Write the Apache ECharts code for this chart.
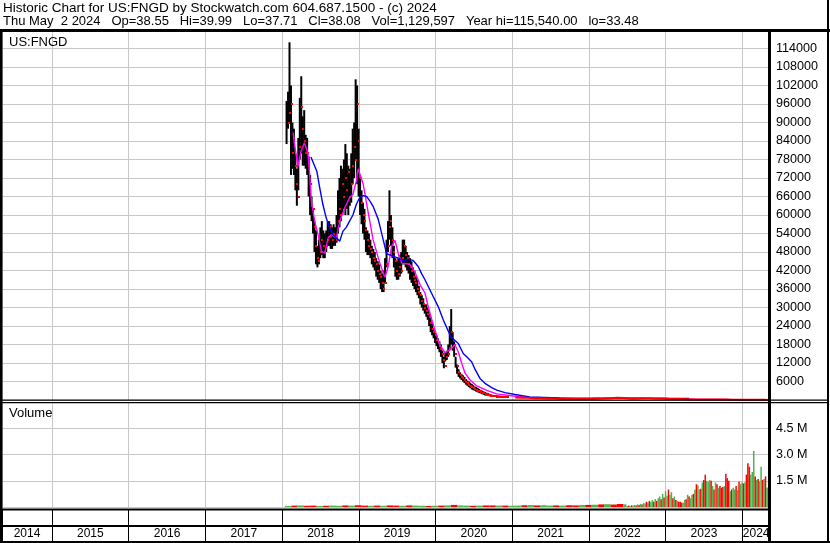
<!DOCTYPE html>
<html><head><meta charset="utf-8">
<script src="https://cdn.jsdelivr.net/npm/echarts@6/dist/echarts.min.js"></script>
<style>html,body{margin:0;padding:0;background:#fff}#c{width:830px;height:543px}</style>
</head><body><div id="c"></div>
<script>
// ---------------- texts ----------------
const headerLine1 = 'Historic Chart for US:FNGD by Stockwatch.com 604.687.1500 - (c) 2024';
const headerLine2 = 'Thu May  2 2024   Op=38.55   Hi=39.99   Lo=37.71   Cl=38.08   Vol=1,129,597   Year hi=115,540.00   lo=33.48';
const symbolLabel = 'US:FNGD';
const volumeLabel = 'Volume';
const yearLabels = ['2014','2015','2016','2017','2018','2019','2020','2021','2022','2023','2024'];

// ---------------- axis ranges ----------------
const axisStartDate = '2014-05-08';
const axisEndDate = '2024-05-12';
const priceMax = 120000, priceStep = 6000;
const volMax = 6000000, volStep = 1500000;

// ---------------- weekly price bars (2018-01-22 onward) ----------------
const weeklyStart = '2018-01-22';
const weeklyHigh = [97000,100000,116000,102000,90000,88000,80000,75000,85000,98000,
105000,92000,94000,86000,85000,79000,73000,66000,62000,58000,
55000,50000,52000,56000,58000,55000,54000,55000,58000,58000,
57000,56000,57000,56000,60000,68000,72000,76000,75000,78000,
83000,80000,76000,75000,80000,88000,90000,104000,102000,88000,
72000,68000,64000,62000,56000,55000,54000,52000,50000,49000,
48000,46000,45000,44000,42000,41000,42000,46000,52000,58000,
68000,60000,56000,50000,46000,45000,46000,47000,48000,52000,
52000,50000,48000,47000,46000,45000,43000,42000,40000,39000,
37000,35000,34000,33000,31000,31000,30000,29000,27000,25000,
23000,22000,21000,20000,19000,18000,16000,14000,15500,16000,
18000,24000,29500,22000,19000,14000,11500,10000,9000,8500,
8000,7500,6800,6300,6000,5600,5200,4800,4400,4200,
3900,3600,3300,3000,2800,2600,2400,2200,2000,1800,
1700,1600,1550,1500,1450,1400,1350,1300,1250,1200];
const weeklyLow = [83000,88000,90000,73000,75000,73000,68000,63000,68000,78000,
80000,76000,76000,75000,73000,66000,60000,58000,54000,48000,
44000,43000,44000,46000,47000,46000,46000,48000,50000,50000,
49000,49000,50000,50000,51000,54000,56000,58000,60000,62000,
60000,62000,60000,63000,64000,70000,72000,78000,70000,66000,
60000,57000,54000,52000,48000,47000,47000,46000,44000,43000,
42000,40000,39000,38000,36000,35000,35000,38000,43000,48000,
52000,50000,46000,43000,40000,39000,39000,40000,41000,44000,
44000,43000,42000,41000,39000,38000,37000,36000,35000,34000,
33000,31000,30000,29000,28000,27000,26000,24000,22000,21000,
20000,18500,17500,16500,15500,14000,12000,10300,12500,13000,
14000,17000,18000,16000,14000,10500,8500,7500,7000,6500,
6000,5500,5000,4600,4200,3800,3400,3200,3000,2700,
2500,2300,2100,1900,1700,1500,1400,1300,1200,1100,
1000,1000,950,950,900,900,850,850,800,800];
const weeklyClose = [90000,93000,96000,80000,85000,76000,70000,66000,82000,95000,
88000,84000,80000,80000,76000,70000,63000,62000,56000,50000,
46000,45000,48000,52000,50000,48000,50000,52000,56000,53000,
52000,54000,53000,52000,58000,62000,60000,70000,66000,72000,
68000,74000,66000,70000,76000,82000,78000,96000,84000,72000,
64000,60000,58000,55000,52000,50000,49000,48000,46000,45000,
44000,42000,41000,40000,38000,36000,38000,44000,50000,56000,
58000,52000,48000,45000,42000,41000,43000,42000,46000,50000,
47000,46000,44000,43000,42000,40000,39000,38000,36000,35000,
34000,32000,31000,30000,29000,28000,27000,25000,23000,22000,
21000,19500,18500,17500,16500,15000,13000,11000,14000,15000,
17000,22000,20000,18000,15000,11000,9000,8000,7500,7000,
6500,6000,5500,5000,4600,4200,3800,3600,3300,3000,
2800,2600,2400,2200,2000,1800,1600,1500,1400,1300,
1200,1150,1100,1050,1000,1050,950,900,900,850];

// ---------------- monthly closes after 2021 ----------------
const lateDates = ['2021-01-15','2021-02-15','2021-03-15','2021-04-15','2021-05-15','2021-06-15','2021-07-15','2021-08-15','2021-09-15','2021-10-15','2021-11-15','2021-12-15',
'2022-01-15','2022-02-15','2022-03-15','2022-04-15','2022-05-15','2022-06-15','2022-07-15','2022-08-15','2022-09-15','2022-10-15','2022-11-15','2022-12-15',
'2023-01-15','2023-02-15','2023-03-15','2023-04-15','2023-05-15','2023-06-15','2023-07-15','2023-08-15','2023-09-15','2023-10-15','2023-11-15','2023-12-15',
'2024-01-15','2024-02-15','2024-03-15','2024-04-15','2024-05-02'];
const lateClose = [800,700,750,600,600,500,450,420,430,380,350,360,
420,520,600,560,750,680,520,480,560,560,460,520,
380,320,290,250,200,150,140,150,140,140,100,80,
65,52,46,42,38];

// ---------------- moving averages ----------------
const fastMADates = ['2018-02-22','2018-03-01','2018-03-17','2018-04-01','2018-04-17','2018-04-25','2018-05-04','2018-05-12','2018-05-20','2018-06-05',
'2018-06-21','2018-07-07','2018-07-23','2018-08-08','2018-08-23','2018-09-16','2018-10-02','2018-10-26','2018-11-18','2018-12-04',
'2018-12-20','2018-12-29','2019-01-22','2019-02-15','2019-03-10','2019-04-11','2019-05-05','2019-05-21','2019-06-06','2019-06-22',
'2019-07-08','2019-07-24','2019-08-17','2019-09-02','2019-09-25','2019-10-19','2019-11-12','2019-12-05','2019-12-29','2020-01-22',
'2020-02-15','2020-03-10','2020-04-03','2020-04-19','2020-05-05','2020-05-21','2020-06-14','2020-07-15','2020-09-02','2020-10-19',
'2021-01-06','2021-03-15','2021-06-15','2021-09-15','2021-12-15','2022-03-15','2022-06-15','2022-09-15','2022-12-15','2023-03-15',
'2023-06-15','2023-09-15','2023-12-15','2024-03-15','2024-05-02'];
const fastMA = [86800,83000,75800,80700,83400,84000,80000,73100,64500,58000,
53600,48200,47600,52600,53600,52600,58000,62300,65600,66700,
71000,75000,70000,60700,52000,44400,39800,43300,49800,51800,
47500,44400,44200,43900,41500,37500,34700,28200,22800,17800,
15400,16250,17900,15500,11900,8700,6500,4600,3100,2000,
1300,850,650,480,380,500,680,560,520,350,
200,150,110,55,42];
const slowMADates = ['2018-05-18','2018-06-15','2018-06-29','2018-07-14','2018-07-30','2018-08-15','2018-08-31','2018-09-16','2018-10-02','2018-10-17',
'2018-11-02','2018-11-18','2018-12-04','2018-12-20','2019-01-05','2019-01-22','2019-02-07','2019-02-23','2019-03-10','2019-04-04',
'2019-04-27','2019-05-13','2019-06-06','2019-07-08','2019-07-31','2019-08-24','2019-09-16','2019-10-11','2019-10-27','2019-11-12',
'2019-12-13','2020-01-14','2020-02-07','2020-03-14','2020-04-19','2020-05-13','2020-05-29','2020-06-22','2020-07-07','2020-07-31',
'2020-08-24','2020-09-25','2020-10-19','2020-11-27','2021-01-14','2021-03-25','2021-08-15','2022-02-22','2022-10-18','2023-04-22'];
const slowMA = [78800,74200,68800,63400,59000,55900,53600,52600,51500,54700,
56000,58000,60000,63400,65600,66300,66000,64500,62800,58500,
52000,47500,46800,46000,45000,45700,45300,43300,41000,39000,
34700,30300,26000,20500,18300,15000,14000,12300,10000,7000,
5400,4000,3200,2400,1800,1000,650,560,540,480];

// ---------------- volume ----------------
const volMonthlyStart = '2018-01-15';
const volMonthly = [60000,80000,90000,70000,80000,60000,70000,80000,70000,90000,80000,100000,
80000,70000,80000,70000,90000,80000,70000,90000,80000,70000,60000,70000,
80000,90000,120000,90000,80000,70000,80000,90000,90000,80000,80000,70000,
80000,100000,110000,90000,100000,80000,90000,80000,100000,90000,110000,120000,
130000,150000,160000,140000,170000,150000];
const volMonthlyUp = [1,0,1,0,0,1,0,1,1,0,1,0, 0,1,0,1,0,0,1,0,1,1,0,1, 0,1,0,1,1,0,1,0,0,1,0,1, 1,0,1,0,1,1,0,1,0,0,1,0, 1,0,1,0,0,1];
const volWeeklyStart = '2022-06-30';
const volWeekly = [60000,80000,50000,100000,70000,120000,90000,150000,120000,180000,
140000,220000,200000,300000,250000,350000,280000,400000,300000,450000,
350000,500000,600000,450000,750000,550000,900000,650000,1000000,700000,
850000,500000,600000,400000,350000,300000,
300000,250000,250000,400000,450000,700000,600000,500000,700000,750000,
1000000,1300000,1250000,1000000,1050000,1400000,1550000,1850000,1500000,1450000,
1550000,1500000,1200000,1000000,1400000,1300000,1100000,1200000,1100000,1150000,
1200000,1900000,1650000,1500000,900000,1000000,1100000,1000000,1200000,950000,
1450000,1300000,1400000,1350000,1400000,1850000,2500000,2300000,1850000,2000000,
3200000,1750000,1550000,1600000,1450000,2300000,1550000,1600000,1750000,1100000,1129597];
const volWeeklyUp = [1,0,1,0,1,1,0,1,0,1, 0,1,1,0,1,0,1,1,0,1, 0,1,1,0,1,0,1,1,0,1, 1,0,1,0,1,0,
0,0,1,1,0,1,0,1,1,0, 1,0,1,1,0,1,0,0,1,1, 1,0,1,0,1,0,1,0,0,0, 1,0,0,0,1,0,1,1,0,1, 0,1,1,0,1,0,0,0,1,1, 1,0,1,0,1,1,0,1,0,1,0];

// ---------------- helpers (dates only) ----------------
const DAY = 86400000;
const ts = s => Date.parse(s + 'T00:00:00Z');
const axisMin = ts(axisStartDate), axisMax = ts(axisEndDate);
const weeklyDates = weeklyHigh.map((_, i) => ts(weeklyStart) + i * 7 * DAY);
const barData = weeklyHigh.map((h, i) => [weeklyDates[i], weeklyLow[i], h, weeklyClose[i]]);
const lateData = lateDates.map((d, i) => [ts(d), lateClose[i]]);
const fastData = fastMADates.map((d, i) => [ts(d), fastMA[i]]);
const slowData = slowMADates.map((d, i) => [ts(d), slowMA[i]]);
const vm0 = new Date(ts(volMonthlyStart));
const volData = volMonthly.map((v, i) => [Date.UTC(vm0.getUTCFullYear(), vm0.getUTCMonth() + i, 15), v, volMonthlyUp[i]])
  .concat(volWeekly.map((v, i) => [ts(volWeeklyStart) + i * 7 * DAY, v, volWeeklyUp[i]]));
const yearData = yearLabels.map(y => [Math.max(Date.UTC(+y, 0, 1), axisMin), Math.min(Date.UTC(+y + 1, 0, 1), axisMax)]);

const FONT = '"Liberation Sans", Arial, sans-serif';
const GRID_GRAY = '#c8c8c8';
const GREEN = '#4cb44c', RED = '#ff0000';

function timeAxis(gridIndex, splitColor) {
  return {
    type: 'time', gridIndex, min: axisMin, max: axisMax,
    splitNumber: 10, minInterval: 365 * DAY, maxInterval: 366 * DAY,
    axisLine: {show: false}, axisTick: {show: false}, axisLabel: {show: false},
    splitLine: {show: true, lineStyle: {color: splitColor, width: 1}}
  };
}

const chart = echarts.init(document.getElementById('c'), null, {renderer: 'canvas'});
const option = {
  animation: false,
  useUTC: true,
  backgroundColor: '#fff',
  grid: [
    {left: 2, top: 30, width: 768, height: 370},
    {left: 2, top: 402, width: 768, height: 105},
    {left: 2, top: 510, width: 768, height: 31}
  ],
  xAxis: [timeAxis(0, GRID_GRAY), timeAxis(1, GRID_GRAY), timeAxis(2, '#000')],
  yAxis: [
    {type: 'value', gridIndex: 0, position: 'right', min: 0, max: priceMax, interval: priceStep,
     axisLine: {show: false}, axisTick: {show: false},
     axisLabel: {margin: 6, align: 'left', color: '#000', fontFamily: FONT, fontSize: 12.6,
       formatter: v => (v > 0 && v < priceMax) ? String(v) : ''},
     splitLine: {lineStyle: {color: GRID_GRAY, width: 1}}},
    {type: 'value', gridIndex: 1, position: 'right', min: 0, max: volMax, interval: volStep,
     axisLine: {show: false}, axisTick: {show: false},
     axisLabel: {margin: 6, align: 'left', color: '#000', fontFamily: FONT, fontSize: 12.6,
       formatter: v => (v > 0 && v < volMax) ? (v / 1e6).toFixed(1) + ' M' : ''},
     splitLine: {lineStyle: {color: GRID_GRAY, width: 1}}},
    {type: 'value', gridIndex: 2, min: 0, max: 1, show: false}
  ],
  series: [
    { // high-low bars
      type: 'custom', xAxisIndex: 0, yAxisIndex: 0, z: 2, clip: true,
      data: barData, encode: {x: 0, y: [1, 2]},
      renderItem: (params, api) => {
        const lo = api.coord([api.value(0), api.value(1)]);
        const hi = api.coord([api.value(0), api.value(2)]);
        return {type: 'rect', shape: {x: lo[0] - 1, y: hi[1], width: 2, height: Math.max(1, lo[1] - hi[1])}, style: {fill: '#000'}};
      }
    },
    { // close ticks
      type: 'custom', xAxisIndex: 0, yAxisIndex: 0, z: 3, clip: true,
      data: barData, encode: {x: 0, y: 3},
      renderItem: (params, api) => {
        const p = api.coord([api.value(0), api.value(3)]);
        return {type: 'rect', shape: {x: Math.round(p[0]) + 1, y: Math.round(p[1]) - 1, width: 2, height: 2}, style: {fill: RED}};
      }
    },
    {type: 'line', xAxisIndex: 0, yAxisIndex: 0, z: 4, data: fastData, showSymbol: false, symbol: 'none',
     lineStyle: {color: '#ff00ff', width: 1.4}},
    {type: 'line', xAxisIndex: 0, yAxisIndex: 0, z: 5, data: slowData, showSymbol: false, symbol: 'none',
     lineStyle: {color: '#0000ff', width: 1.4}},
    {type: 'line', xAxisIndex: 0, yAxisIndex: 0, z: 6, data: lateData, showSymbol: false, symbol: 'none',
     lineStyle: {color: RED, width: 2}},
    { // volume
      type: 'custom', xAxisIndex: 1, yAxisIndex: 1, z: 3, clip: true,
      data: volData, encode: {x: 0, y: 1},
      renderItem: (params, api) => {
        const i = params.dataIndex;
        const top = api.coord([api.value(0), api.value(1)]);
        const base = api.coord([api.value(0), 0]);
        let w = 1.6;
        if (i + 1 < volData.length) {
          const nx = api.coord([volData[i + 1][0], 0])[0];
          w = Math.max(1.5, nx - base[0]);
        }
        return {type: 'rect', shape: {x: base[0] - 0.2, y: top[1], width: w, height: Math.max(1, base[1] - top[1])},
          style: {fill: api.value(2) ? GREEN : RED}};
      }
    },
    { // year labels
      type: 'custom', xAxisIndex: 2, yAxisIndex: 2, z: 5,
      data: yearData, encode: {x: [0, 1]},
      renderItem: (params, api) => {
        const a = api.coord([api.value(0), 0]);
        const b = api.coord([api.value(1), 0]);
        return {type: 'text', x: (a[0] + b[0]) / 2, y: 534,
          style: {text: yearLabels[params.dataIndex], font: '12px ' + FONT, fill: '#000', align: 'center', verticalAlign: 'middle'}};
      }
    }
  ],
  graphic: [
    {type: 'text', x: 3, y: 8, style: {text: headerLine1, font: '13.5px ' + FONT, fill: '#000', verticalAlign: 'middle'}},
    {type: 'text', x: 3, y: 21, style: {text: headerLine2, font: '13px ' + FONT, fill: '#000', verticalAlign: 'middle'}},
    {type: 'text', x: 9, y: 42, z: 100, style: {text: symbolLabel, font: '13px ' + FONT, fill: '#000', verticalAlign: 'middle'}},
    {type: 'text', x: 9, y: 413, z: 100, style: {text: volumeLabel, font: '13px ' + FONT, fill: '#000', verticalAlign: 'middle'}},
    // frame lines
    {type: 'rect', z: 100, shape: {x: 0, y: 29, width: 830, height: 3}, style: {fill: '#000'}},
    {type: 'rect', z: 100, shape: {x: 0, y: 29, width: 2.5, height: 514}, style: {fill: '#000'}},
    {type: 'rect', z: 100, shape: {x: 827, y: 0, width: 2, height: 543}, style: {fill: '#000'}},
    {type: 'rect', z: 100, shape: {x: 768, y: 29, width: 3, height: 514}, style: {fill: '#000'}},
    {type: 'rect', z: 100, shape: {x: 0, y: 399.5, width: 829, height: 1.3}, style: {fill: '#000'}},
    {type: 'rect', z: 100, shape: {x: 0, y: 402, width: 829, height: 1.3}, style: {fill: '#000'}},
    {type: 'rect', z: 100, shape: {x: 0, y: 508.5, width: 770, height: 2}, style: {fill: '#000'}},
    {type: 'rect', z: 100, shape: {x: 0, y: 525, width: 770, height: 2}, style: {fill: '#000'}},
    {type: 'rect', z: 100, shape: {x: 0, y: 541, width: 830, height: 2}, style: {fill: '#000'}}
  ]
};
chart.setOption(option);
</script>
</body></html>
